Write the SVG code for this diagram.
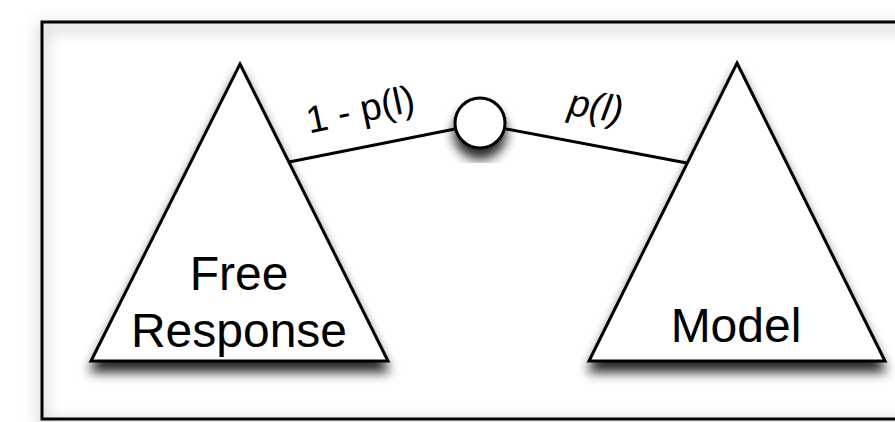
<svg xmlns="http://www.w3.org/2000/svg" width="895" height="422" viewBox="0 0 895 422">
<defs>
<filter id="sh" x="-30%" y="-30%" width="160%" height="160%">
<feGaussianBlur in="SourceAlpha" stdDeviation="6"/>
<feOffset dx="0" dy="10" result="b"/>
<feComponentTransfer><feFuncA type="linear" slope="0.85"/></feComponentTransfer>
<feMerge><feMergeNode/><feMergeNode in="SourceGraphic"/></feMerge>
</filter>
<filter id="fsh" x="-10%" y="-10%" width="120%" height="120%">
<feGaussianBlur in="SourceAlpha" stdDeviation="8"/>
<feOffset dx="0" dy="5"/>
<feComponentTransfer><feFuncA type="linear" slope="0.5"/></feComponentTransfer>
<feMerge><feMergeNode/><feMergeNode in="SourceGraphic"/></feMerge>
</filter>
<style>
.shape{fill:#fff;stroke:#000;stroke-width:3;stroke-linejoin:miter}
.lbl{font-family:"Liberation Sans",Arial,Helvetica,sans-serif;fill:#000}
.big{font-size:48px}
.edge{font-size:38px}
.line{stroke:#000;stroke-width:3;fill:none}
</style>
</defs>
<rect width="895" height="422" fill="#fff"/>
<g id="frame">
<rect x="42" y="22" width="880" height="397" fill="none" stroke="#000" stroke-width="3" filter="url(#fsh)"/>
</g>
<g id="connectors">
<line class="line" x1="289" y1="162" x2="480" y2="124"/>
<line class="line" x1="480" y1="124" x2="687" y2="163"/>
<text class="lbl edge" x="363" y="122" text-anchor="middle" transform="rotate(-12 363 122)">1 - p(l)</text>
<text class="lbl edge" x="594" y="119" text-anchor="middle" font-style="italic" transform="rotate(9 594 119)">p(l)</text>
</g>
<g id="free-response">
<polygon class="shape" points="240,64 388,361 91,361" filter="url(#sh)"/>
<text class="lbl big" x="239" y="290" text-anchor="middle">Free</text>
<text class="lbl big" x="239" y="347" text-anchor="middle">Response</text>
</g>
<g id="model">
<polygon class="shape" points="737,63 885,361 589,361" filter="url(#sh)"/>
<text class="lbl big" x="736" y="342" text-anchor="middle">Model</text>
</g>
<g id="switch">
<circle class="shape" cx="480" cy="123" r="25" filter="url(#sh)"/>
</g>
</svg>
